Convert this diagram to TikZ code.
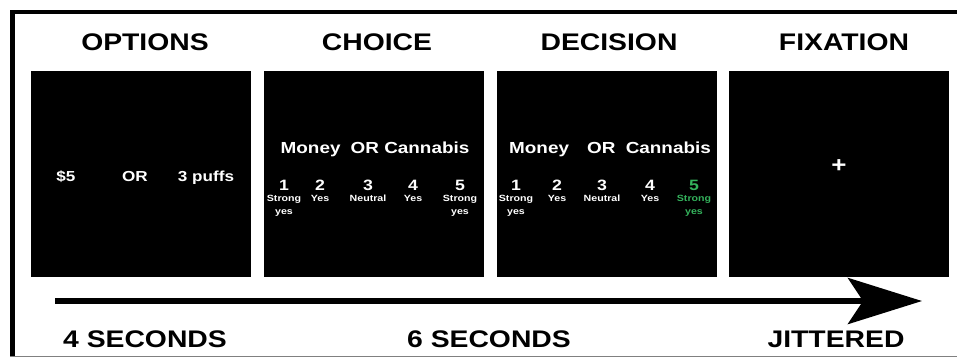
\documentclass[tikz,border=0pt]{standalone}
\usepackage{fontspec}
\setmainfont{Liberation Sans}[FakeStretch=1.18]
\usepackage{xcolor}
\usepackage{tikz}
\usetikzlibrary{arrows.meta}
\definecolor{ratinggreen}{RGB}{52,178,92}

\begin{document}
\begin{tikzpicture}[
		x=1pt, y=-1pt,
		every node/.style={inner sep=0pt, font=\bfseries},
		header/.style={anchor=base, font=\fontsize{24}{24}\selectfont\bfseries},
		screen/.style={fill=black, minimum width=220pt, minimum height=206pt},
		option/.style={anchor=base, text=white, font=\fontsize{14.5}{14.5}\selectfont\bfseries},
		question/.style={anchor=base, text=white, font=\fontsize{16}{16}\selectfont\bfseries},
		rating/.style={anchor=base, font=\fontsize{15}{15}\selectfont\bfseries},
		rating label/.style={anchor=north, align=center, font=\fontsize{9}{13}\selectfont\bfseries},
		timeline/.style={line width=6pt, -{Stealth[length=74pt, width=46pt, inset=15pt]}}
		]

	\useasboundingbox (0,0) rectangle (957,357);

	% Frame
	\draw[line width=4.5pt] (12.5,356) -- (12.5,12) -- (957,12);
	\draw[gray, line width=1pt] (10,356.5) -- (957,356.5);

	% Headers
	\foreach \name/\x/\lab in {hopt/145/OPTIONS, hcho/377/CHOICE, hdec/609/DECISION, hfix/844/FIXATION}{
		\node[header] (\name) at (\x, 50) {\lab};
	}

	% Screens
	\foreach \name/\x in {sopt/141, scho/374, sdec/607, sfix/839}{
		\node[screen] (\name) at (\x, 174) {};
	}

	% Options screen
	\node[option] (money) at (66, 181) {\$5};
	\node[option] (or) at (135, 181) {OR};
	\node[option] (puffs) at (206, 181) {3 puffs};

	% Choice screen
	\node[question] (qcho) at (375, 153) {Money\hspace{5pt} OR Cannabis};
	\foreach \name/\x/\n/\lab in {c1/284/1/{Strong\\yes}, c2/320/2/Yes, c3/368/3/Neutral, c4/413/4/Yes, c5/460/5/{Strong\\yes}}{
		\node[rating, text=white] (\name) at (\x, 190) {\n};
		\node[rating label, text=white] (\name-lab) at (\x, 195) {\lab};
	}

	% Decision screen
	\node[question] (qdec) at (610, 153) {Money\hspace{13pt} OR\hspace{5pt} Cannabis};
	\foreach \name/\x/\n/\lab/\col in {d1/516/1/{Strong\\yes}/white, d2/557/2/Yes/white, d3/602/3/Neutral/white, d4/650/4/Yes/white, d5/694/5/{Strong\\yes}/ratinggreen}{
		\node[rating, text=\col] (\name) at (\x, 190) {\n};
		\node[rating label, text=\col] (\name-lab) at (\x, 195) {\lab};
	}

	% Fixation screen
	\node[text=white, font=\fontsize{22}{22}\selectfont\bfseries] (cross) at (839, 166) {+};

	% Time line
	\coordinate (tstart) at (55, 301);
	\coordinate (tend) at (922, 301);
	\draw[timeline] (tstart) -- (tend);

	% Durations
	\node[header] (t4) at (145, 347) {4 SECONDS};
	\node[header] (t6) at (489, 347) {6 SECONDS};
	\node[header] (tj) at (836, 347) {JITTERED};

\end{tikzpicture}
\end{document}
